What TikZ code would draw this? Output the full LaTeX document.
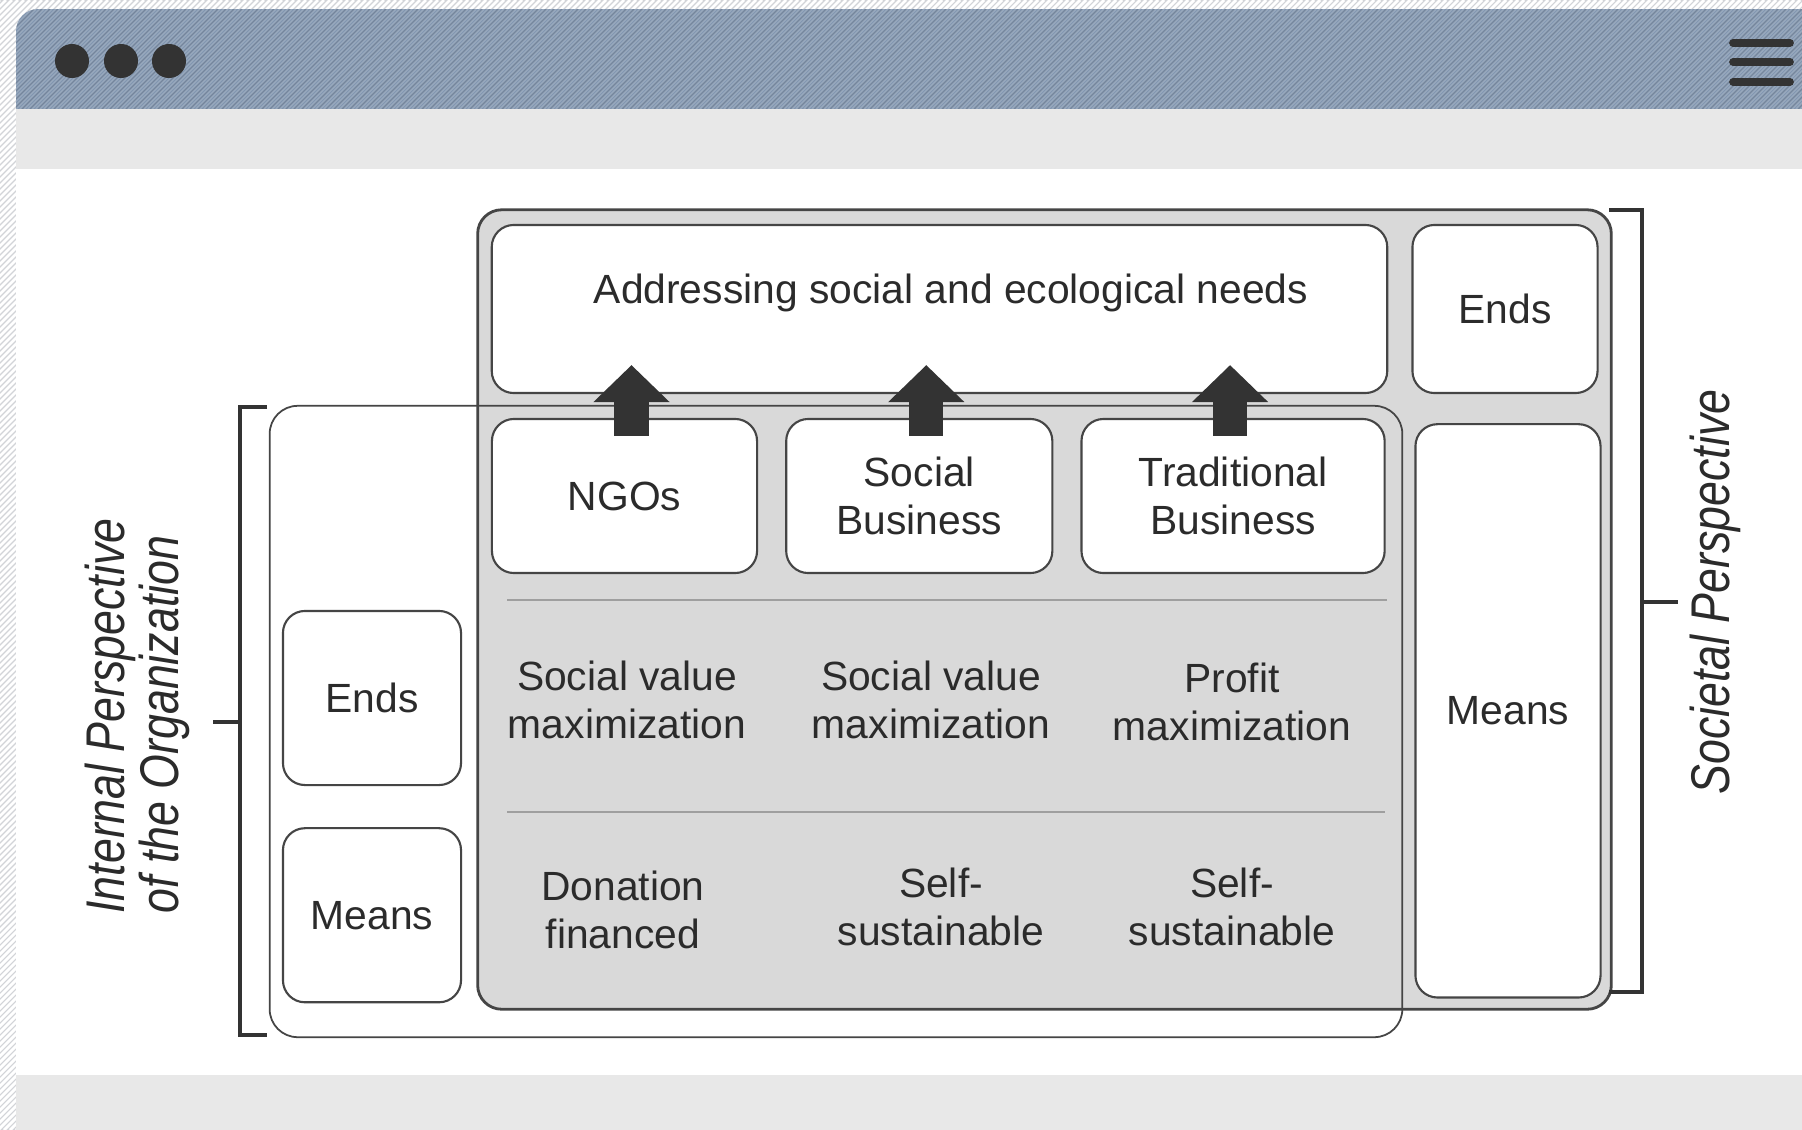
\documentclass[tikz,border=0pt]{standalone}
\usepackage{fontspec}
\setmainfont{Liberation Sans}
\newfontfamily\narrowfont[FakeStretch=0.82]{Liberation Sans}
\usepackage{tikz}
\usetikzlibrary{arrows.meta,positioning}
\definecolor{backgray}{HTML}{D2D4D8}
\definecolor{denim}{HTML}{8195AF}
\definecolor{chrome}{HTML}{E8E8E8}
\definecolor{panelgray}{HTML}{D9D9D9}
\definecolor{edgegray}{HTML}{454545}
\definecolor{darkgray}{HTML}{333333}
\definecolor{inkgray}{HTML}{2B2B2B}
\tikzstyle{panel}=[draw=edgegray,line width=0.8pt,fill=panelgray,rounded corners=0.24cm]
\tikzstyle{frame}=[draw=edgegray,line width=0.5pt,rounded corners=0.28cm]
\tikzstyle{cell}=[draw=edgegray,line width=0.6pt,fill=white,rounded corners=0.22cm,text=inkgray,align=center,font=\fontsize{11.6}{13.8}\selectfont]
\tikzstyle{entry}=[text=inkgray,align=center,font=\fontsize{11.6}{13.6}\selectfont]
\tikzstyle{persp}=[text=inkgray,rotate=90,align=left,font=\narrowfont\itshape\fontsize{15.5}{15.4}\selectfont]
\tikzstyle{bigarrow}=[-{Triangle[width=0.74cm,length=0.37cm]},line width=0.34cm,draw=darkgray]
\tikzstyle{bracket}=[draw=darkgray,line width=1.1pt]
\tikzstyle{divider}=[draw=gray!75,line width=0.7pt]

\begin{document}
\begin{tikzpicture}[x=0.01cm,y=-0.01cm,node distance=0.27cm]
  \useasboundingbox (0,0) rectangle (1802,1130);
  % window around the figure
  \begin{scope}
    \clip (0,0) rectangle (1802,1130);
    \fill[backgray] (0,0) rectangle (1802,1130);
    \foreach \i in {-1130,-1124,...,1802}
      \draw[white,line width=0.8pt] (\i,1130) -- (\i+1130,0);
  \end{scope}
  \begin{scope}
    \clip[rounded corners=0.22cm] (16,9) rectangle (1850,1180);
    \fill[white] (16,9) rectangle (1802,1130);
    \fill[denim] (16,9) rectangle (1802,109);
    \foreach \i in {-100,-96,...,1802}
      \draw[white,opacity=0.18,line width=0.5pt] (\i,109) -- (\i+100,9);
    \foreach \i in {-98,-90,...,1802}
      \draw[black,opacity=0.10,line width=0.5pt] (\i,109) -- (\i+100,9);
    \fill[chrome] (16,109) rectangle (1802,169);
    \fill[chrome] (16,1075) rectangle (1802,1130);
  \end{scope}
  \foreach \x in {72,121,169}
    \fill[darkgray] (\x,61) circle (0.17cm);
  \foreach \y in {43,62,82}
    \draw[darkgray,line width=2.2pt,line cap=round] (1733,\y) -- (1790,\y);

  % societal block
  \node[panel] (society) at (1044.5,609.5) [minimum width=11.33cm,minimum height=7.99cm] {};
  \node[frame] (internal) at (836,721.5) [minimum width=11.32cm,minimum height=6.31cm] {};

  \node[cell] (needs) at (939.5,309) [minimum width=8.95cm,minimum height=1.68cm] {};
  \node[entry] (needstext) at (951,293) {Addressing social and ecological needs};
  \node[cell] (rends) at (1505,309) [minimum width=1.85cm,minimum height=1.68cm] {Ends};
  \node[cell] (rmeans) [below=0.29cm of rends,xshift=0.03cm,minimum width=1.85cm,minimum height=5.73cm] {Means};

  % organisations
  \node[cell] (ngo) at (624.5,496) [minimum width=2.65cm,minimum height=1.54cm] {NGOs};
  \node[cell] (sbus) [right=of ngo,minimum width=2.66cm,minimum height=1.54cm] {Social\\Business};
  \node[cell] (tbus) [right=of sbus,minimum width=3.03cm,minimum height=1.54cm] {Traditional\\Business};

  \node[cell] (lends) at (372,698) [minimum width=1.78cm,minimum height=1.74cm] {Ends};
  \node[cell] (lmeans) [below=0.41cm of lends,minimum width=1.78cm,minimum height=1.74cm] {Means};

  \draw[divider] (507,600) -- (1387,600);
  \draw[divider] (507,812) -- (1385,812);

  \node[entry] (ngoend) at (627,700) {Social value\\maximization};
  \node[entry] (sbusend) at (931,700) {Social value\\maximization};
  \node[entry] (tbusend) at (1232,702) {Profit\\maximization};
  \node[entry] (ngomean) at (623,910) {Donation\\financed};
  \node[entry] (sbusmean) at (941,907) {Self-\\sustainable};
  \node[entry] (tbusmean) at (1232,907) {Self-\\sustainable};

  \foreach \b/\s in {ngo/0.07cm,sbus/0.07cm,tbus/-0.03cm}
    \draw[bigarrow] ([xshift=\s,yshift=-0.18cm]\b.north) -- ([xshift=\s,yshift=0.29cm]\b.north |- needs.south);

  % perspectives
  \draw[bracket] (267,407) -- (240,407) -- (240,1035) -- (267,1035);
  \draw[bracket] (240,722) -- (213,722);
  \draw[bracket] (1609,210) -- (1642,210) -- (1642,992) -- (1609,992);
  \draw[bracket] (1642,602) -- (1678,602);
  \node[persp] (inside) at (137,716) {Internal Perspective\\of the Organization};
  \node[persp] (outside) at (1715,592) {Societal Perspective};
\end{tikzpicture}
\end{document}
